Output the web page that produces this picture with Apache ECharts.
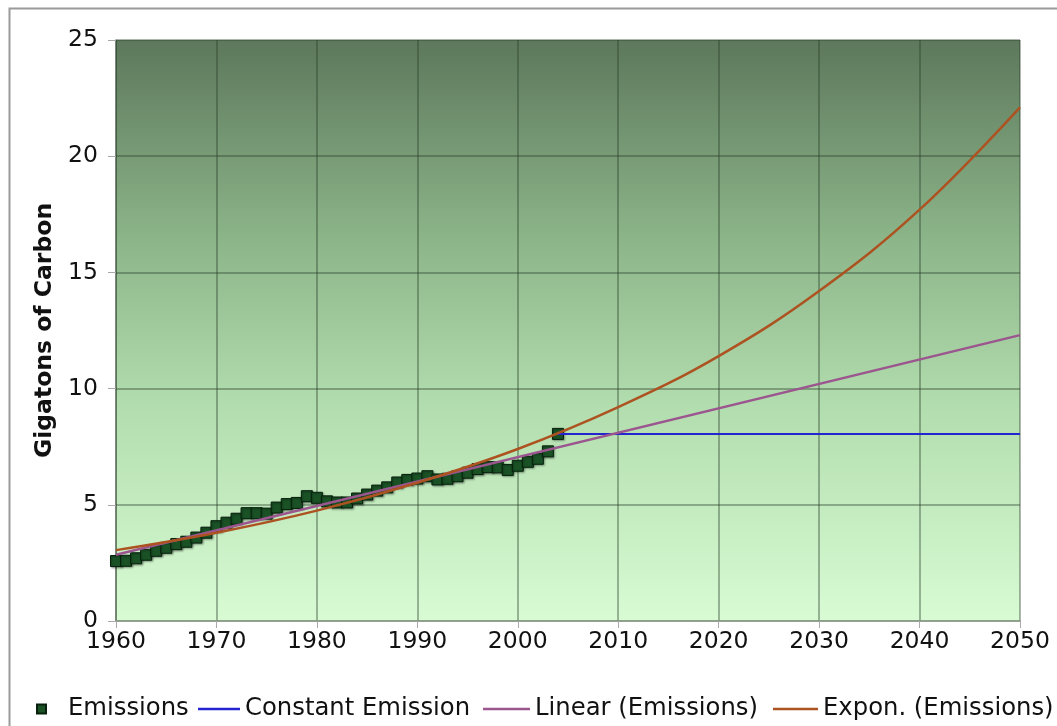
<!DOCTYPE html>
<html>
<head>
<meta charset="utf-8">
<script src="https://cdn.jsdelivr.net/npm/echarts@6/dist/echarts.min.js"></script>
<style>html,body{margin:0;padding:0;background:#fff}#c{width:1057px;height:726px}</style>
</head>
<body>
<div id="c"></div>
<script>
// Observed emissions (Gigatons of Carbon), 1960-2004
const years = [1960,1961,1962,1963,1964,1965,1966,1967,1968,1969,1970,1971,1972,1973,1974,1975,1976,1977,1978,1979,1980,1981,1982,1983,1984,1985,1986,1987,1988,1989,1990,1991,1992,1993,1994,1995,1996,1997,1998,1999,2000,2001,2002,2003,2004];
const emissions = [2.58,2.59,2.70,2.85,3.02,3.15,3.31,3.41,3.59,3.80,4.08,4.23,4.40,4.64,4.64,4.62,4.88,5.03,5.08,5.37,5.30,5.15,5.10,5.10,5.27,5.44,5.61,5.75,5.96,6.07,6.13,6.23,6.09,6.12,6.23,6.38,6.54,6.62,6.61,6.50,6.68,6.85,6.98,7.30,8.05];
// Constant emission after 2004
const constYears = [2004,2050];
const constValues = [8.05,8.05];
// Linear trendline
const linYears = [1960,2050];
const linValues = [2.85,12.3];
// Exponential trendline
const expYears = [1960,1970,1980,1990,2000,2010,2020,2030,2040,2050];
const expValues = [3.05,3.80,4.75,5.95,7.40,9.20,11.4,14.2,17.7,22.1];
const xTicks = [1960,1970,1980,1990,2000,2010,2020,2030,2040,2050];
const yTicks = [0,5,10,15,20,25];

const zip = (a,b)=>a.map((v,i)=>[v,b[i]]);
const font = 'DejaVu Sans, Verdana, sans-serif';
const gridCol = 'rgba(40,62,40,0.5)';
const lgText = {fontFamily: font, fontSize: 24.3, color: '#111'};

const chart = echarts.init(document.getElementById('c'));
chart.setOption({
  animation: false,
  backgroundColor: '#fff',
  graphic: [{
    type: 'rect', left: 7, top: 6, shape: {width: 1100, height: 800},
    style: {fill: 'none', stroke: '#9a9a9a', lineWidth: 2}, z: -10, silent: true
  }],
  grid: {
    left: 116, right: 37, top: 40, bottom: 105, show: true, borderWidth: 0,
    backgroundColor: new echarts.graphic.LinearGradient(0,0,0,1,[
      {offset: 0, color: '#5d785c'},
      {offset: 0.35, color: '#8db68a'},
      {offset: 0.63, color: '#b2ddae'},
      {offset: 1, color: '#d8fbd4'}
    ])
  },
  xAxis: {
    type: 'value', min: 1960, max: 2050, interval: 10,
    axisLine: {show: true, lineStyle: {color: '#8a9a8a', width: 1.5}},
    axisTick: {show: true, length: 7, lineStyle: {color: '#aaa'}},
    axisLabel: {fontFamily: font, fontSize: 23.5, color: '#111', margin: 9,
      formatter: v => xTicks.includes(v) ? String(v) : ''},
    splitLine: {show: true, lineStyle: {color: gridCol, width: 1.5}}
  },
  yAxis: {
    type: 'value', min: 0, max: 25, interval: 5,
    name: 'Gigatons of Carbon', nameLocation: 'middle', nameGap: 59,
    nameTextStyle: {fontFamily: font, fontSize: 23.5, fontWeight: 'bold', color: '#111'},
    axisLine: {show: true, lineStyle: {color: gridCol, width: 1.5}},
    axisTick: {show: true, length: 8, lineStyle: {color: '#aaa'}},
    axisLabel: {fontFamily: font, fontSize: 23.5, color: '#111', margin: 18,
      formatter: v => yTicks.includes(v) ? String(v) : ''},
    splitLine: {show: true, lineStyle: {color: gridCol, width: 1.5}}
  },
  legend: [
    {data: [{name: 'Emissions', icon: 'rect'}], left: 36, top: 697, padding: 0, itemWidth: 9, itemHeight: 9,
     textStyle: Object.assign({}, lgText, {padding: [0,0,0,17]})},
    {data: [{name: 'Constant Emission', icon: 'rect'}], left: 198, top: 697, padding: 0, itemWidth: 42, itemHeight: 2.5, textStyle: lgText},
    {data: [{name: 'Linear (Emissions)', icon: 'rect'}], left: 483, top: 697, padding: 0, itemWidth: 47, itemHeight: 2.5, textStyle: lgText},
    {data: [{name: 'Expon. (Emissions)', icon: 'rect'}], left: 773, top: 697, padding: 0, itemWidth: 45, itemHeight: 2.5, textStyle: lgText}
  ],
  series: [
    {name: 'Emissions', type: 'scatter', data: zip(years, emissions), symbol: 'rect', symbolSize: 11, z: 2,
     itemStyle: {color: '#1a5226', borderColor: '#06200b', borderWidth: 1, opacity: 1,
       shadowColor: 'rgba(0,0,0,0.35)', shadowBlur: 2, shadowOffsetX: 1, shadowOffsetY: 1}},
    {name: 'Constant Emission', type: 'line', data: zip(constYears, constValues), showSymbol: false, symbol: 'none', z: 3,
     lineStyle: {color: '#2424d0', width: 2}, itemStyle: {color: '#2424d0'}},
    {name: 'Linear (Emissions)', type: 'line', data: zip(linYears, linValues), showSymbol: false, symbol: 'none', z: 4,
     lineStyle: {color: '#9c568f', width: 2.5}, itemStyle: {color: '#9c568f'}},
    {name: 'Expon. (Emissions)', type: 'line', data: zip(expYears, expValues), smooth: 0.4, showSymbol: false, symbol: 'none', z: 5,
     lineStyle: {color: '#ad5221', width: 2.5}, itemStyle: {color: '#ad5221'}}
  ]
});
</script>
</body>
</html>
